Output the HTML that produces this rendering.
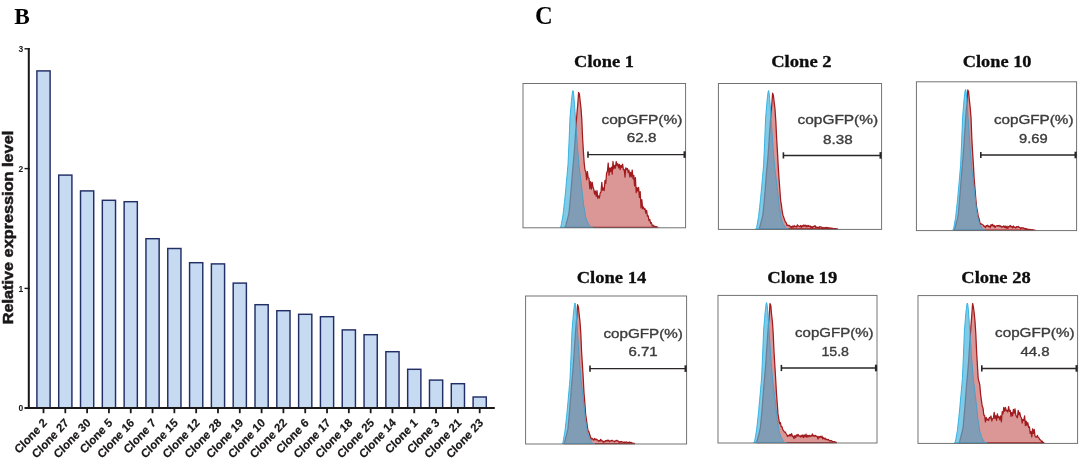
<!DOCTYPE html>
<html><head><meta charset="utf-8"><title>Figure</title>
<style>html,body{margin:0;padding:0;background:#fff;}body{width:1080px;height:460px;overflow:hidden;}svg{display:block;}text{font-family:"Liberation Sans",sans-serif;}.ser{font-family:"Liberation Serif",serif;font-weight:bold;}</style>
</head><body>
<svg width="1080" height="460" viewBox="0 0 1080 460" style="filter:blur(0.45px)">
<rect width="1080" height="460" fill="#ffffff"/>
<text class="ser" x="14.3" y="24.3" font-size="23.3">B</text>
<g fill="#c6daf2" stroke="#222e66" stroke-width="1.45">
<rect x="36.90" y="70.90" width="13.20" height="337.10"/>
<rect x="58.71" y="175.10" width="13.20" height="232.90"/>
<rect x="80.52" y="190.90" width="13.20" height="217.10"/>
<rect x="102.33" y="200.30" width="13.20" height="207.70"/>
<rect x="124.14" y="201.70" width="13.20" height="206.30"/>
<rect x="145.95" y="238.70" width="13.20" height="169.30"/>
<rect x="167.76" y="248.50" width="13.20" height="159.50"/>
<rect x="189.57" y="262.70" width="13.20" height="145.30"/>
<rect x="211.38" y="263.90" width="13.20" height="144.10"/>
<rect x="233.19" y="283.10" width="13.20" height="124.90"/>
<rect x="255.00" y="304.70" width="13.20" height="103.30"/>
<rect x="276.81" y="310.70" width="13.20" height="97.30"/>
<rect x="298.62" y="314.30" width="13.20" height="93.70"/>
<rect x="320.43" y="316.70" width="13.20" height="91.30"/>
<rect x="342.24" y="329.90" width="13.20" height="78.10"/>
<rect x="364.05" y="334.70" width="13.20" height="73.30"/>
<rect x="385.86" y="351.70" width="13.20" height="56.30"/>
<rect x="407.67" y="369.30" width="13.20" height="38.70"/>
<rect x="429.48" y="380.10" width="13.20" height="27.90"/>
<rect x="451.29" y="383.70" width="13.20" height="24.30"/>
<rect x="473.10" y="397.00" width="13.20" height="11.00"/>
</g>
<g stroke="#1a1718" fill="none">
<line x1="28.8" y1="47.9" x2="28.8" y2="409" stroke-width="2"/>
<line x1="24.5" y1="408" x2="494.8" y2="408" stroke-width="2"/>
<line x1="24.5" y1="288.40" x2="29.8" y2="288.40" stroke-width="1.4"/>
<line x1="24.5" y1="168.60" x2="29.8" y2="168.60" stroke-width="1.4"/>
<line x1="24.5" y1="48.80" x2="29.8" y2="48.80" stroke-width="1.4"/>
<line x1="43.50" y1="408" x2="43.50" y2="413.2" stroke-width="1.8"/>
<line x1="65.31" y1="408" x2="65.31" y2="413.2" stroke-width="1.8"/>
<line x1="87.12" y1="408" x2="87.12" y2="413.2" stroke-width="1.8"/>
<line x1="108.93" y1="408" x2="108.93" y2="413.2" stroke-width="1.8"/>
<line x1="130.74" y1="408" x2="130.74" y2="413.2" stroke-width="1.8"/>
<line x1="152.55" y1="408" x2="152.55" y2="413.2" stroke-width="1.8"/>
<line x1="174.36" y1="408" x2="174.36" y2="413.2" stroke-width="1.8"/>
<line x1="196.17" y1="408" x2="196.17" y2="413.2" stroke-width="1.8"/>
<line x1="217.98" y1="408" x2="217.98" y2="413.2" stroke-width="1.8"/>
<line x1="239.79" y1="408" x2="239.79" y2="413.2" stroke-width="1.8"/>
<line x1="261.60" y1="408" x2="261.60" y2="413.2" stroke-width="1.8"/>
<line x1="283.41" y1="408" x2="283.41" y2="413.2" stroke-width="1.8"/>
<line x1="305.22" y1="408" x2="305.22" y2="413.2" stroke-width="1.8"/>
<line x1="327.03" y1="408" x2="327.03" y2="413.2" stroke-width="1.8"/>
<line x1="348.84" y1="408" x2="348.84" y2="413.2" stroke-width="1.8"/>
<line x1="370.65" y1="408" x2="370.65" y2="413.2" stroke-width="1.8"/>
<line x1="392.46" y1="408" x2="392.46" y2="413.2" stroke-width="1.8"/>
<line x1="414.27" y1="408" x2="414.27" y2="413.2" stroke-width="1.8"/>
<line x1="436.08" y1="408" x2="436.08" y2="413.2" stroke-width="1.8"/>
<line x1="457.89" y1="408" x2="457.89" y2="413.2" stroke-width="1.8"/>
<line x1="479.70" y1="408" x2="479.70" y2="413.2" stroke-width="1.8"/>
</g>
<g font-weight="bold" font-size="8.5" fill="#1a1718" text-anchor="end">
<text x="23.2" y="411.40">0</text>
<text x="23.2" y="291.60">1</text>
<text x="23.2" y="171.80">2</text>
<text x="23.2" y="52.00">3</text>
</g>
<text transform="translate(12.9,324.3) rotate(-90)" font-weight="bold" font-size="15" fill="#1a1718" stroke="#1a1718" stroke-width="0.5" textLength="193.5" lengthAdjust="spacingAndGlyphs">Relative expression level</text>
<g font-weight="bold" font-size="12.05" fill="#1a1718" stroke="#1a1718" stroke-width="0.2" text-anchor="end">
<text transform="translate(47.70,423.60) scale(0.93,1) rotate(-45)">Clone 2</text>
<text transform="translate(69.51,423.60) scale(0.93,1) rotate(-45)">Clone 27</text>
<text transform="translate(91.32,423.60) scale(0.93,1) rotate(-45)">Clone 30</text>
<text transform="translate(113.13,423.60) scale(0.93,1) rotate(-45)">Clone 5</text>
<text transform="translate(134.94,423.60) scale(0.93,1) rotate(-45)">Clone 16</text>
<text transform="translate(156.75,423.60) scale(0.93,1) rotate(-45)">Clone 7</text>
<text transform="translate(178.56,423.60) scale(0.93,1) rotate(-45)">Clone 15</text>
<text transform="translate(200.37,423.60) scale(0.93,1) rotate(-45)">Clone 12</text>
<text transform="translate(222.18,423.60) scale(0.93,1) rotate(-45)">Clone 28</text>
<text transform="translate(243.99,423.60) scale(0.93,1) rotate(-45)">Clone 19</text>
<text transform="translate(265.80,423.60) scale(0.93,1) rotate(-45)">Clone 10</text>
<text transform="translate(287.61,423.60) scale(0.93,1) rotate(-45)">Clone 22</text>
<text transform="translate(309.42,423.60) scale(0.93,1) rotate(-45)">Clone 6</text>
<text transform="translate(331.23,423.60) scale(0.93,1) rotate(-45)">Clone 17</text>
<text transform="translate(353.04,423.60) scale(0.93,1) rotate(-45)">Clone 18</text>
<text transform="translate(374.85,423.60) scale(0.93,1) rotate(-45)">Clone 25</text>
<text transform="translate(396.66,423.60) scale(0.93,1) rotate(-45)">Clone 14</text>
<text transform="translate(418.47,423.60) scale(0.93,1) rotate(-45)">Clone 1</text>
<text transform="translate(440.28,423.60) scale(0.93,1) rotate(-45)">Clone 3</text>
<text transform="translate(462.09,423.60) scale(0.93,1) rotate(-45)">Clone 21</text>
<text transform="translate(483.90,423.60) scale(0.93,1) rotate(-45)">Clone 23</text>
</g>
<text class="ser" x="534.9" y="24.4" font-size="24.5">C</text>
<path d="M565.0 227.3 L565.0 227.3 L565.8 225.4 L566.6 222.4 L567.4 219.3 L568.2 216.3 L569.0 212.6 L569.8 204.1 L570.6 195.6 L571.4 185.6 L572.2 175.3 L573.0 166.1 L573.8 157.6 L574.6 147.6 L575.4 135.0 L576.2 123.7 L577.0 112.8 L577.8 104.1 L578.6 92.4 L579.4 94.1 L580.2 101.6 L581.0 108.4 L581.8 119.6 L582.6 138.3 L583.4 151.6 L584.2 163.3 L585.0 170.0 L585.8 171.6 L586.6 179.8 L587.4 171.6 L588.2 178.0 L589.0 178.1 L589.8 188.6 L590.6 181.6 L591.4 189.2 L592.2 182.3 L593.0 187.3 L593.8 189.4 L594.6 194.2 L595.4 191.0 L596.2 196.4 L597.0 190.7 L597.8 198.4 L598.6 195.9 L599.4 198.0 L600.2 193.0 L601.0 192.1 L601.8 182.3 L602.6 190.4 L603.4 187.8 L604.2 190.6 L605.0 180.4 L605.8 183.3 L606.6 172.9 L607.4 171.7 L608.2 163.0 L609.0 175.2 L609.8 168.0 L610.6 171.6 L611.4 167.1 L612.2 174.1 L613.0 161.5 L613.8 168.9 L614.6 165.5 L615.4 168.2 L616.2 161.7 L617.0 165.5 L617.8 163.7 L618.6 167.9 L619.4 164.4 L620.2 169.7 L621.0 165.3 L621.8 167.3 L622.6 164.2 L623.4 169.7 L624.2 169.5 L625.0 177.2 L625.8 167.8 L626.6 169.4 L627.4 168.4 L628.2 172.6 L629.0 170.2 L629.8 176.9 L630.6 172.4 L631.4 176.9 L632.2 170.0 L633.0 178.8 L633.8 175.4 L634.6 186.0 L635.4 177.6 L636.2 192.7 L637.0 187.6 L637.8 191.1 L638.6 187.5 L639.4 197.5 L640.2 191.7 L641.0 207.9 L641.8 199.6 L642.6 208.8 L643.4 206.9 L644.2 209.4 L645.0 208.7 L645.8 213.2 L646.6 210.4 L647.4 216.2 L648.2 215.8 L649.0 220.6 L649.8 219.4 L650.6 223.3 L651.4 222.6 L652.2 225.8 L653.0 225.1 L653.8 226.5 L654.6 226.2 L655.4 226.6 L656.2 226.7 L657.0 227.0 L657.8 227.1 L657.8 227.3 Z" fill="#b93535" fill-opacity="0.435" stroke="#a01a1d" stroke-width="1.25" stroke-linejoin="round"/>
<path d="M560.0 227.3 L560.0 227.3 L560.5 227.3 L561.0 226.2 L561.5 223.4 L562.0 220.6 L562.5 217.8 L563.0 215.0 L563.5 210.6 L564.0 206.1 L564.5 201.7 L565.0 197.2 L565.5 191.9 L566.0 186.5 L566.5 181.1 L567.0 175.5 L567.5 170.0 L568.0 164.4 L568.5 153.5 L569.0 142.5 L569.5 130.2 L570.0 117.9 L570.5 112.0 L571.0 106.1 L571.5 100.2 L572.0 96.1 L572.5 92.0 L573.0 90.6 L573.5 92.9 L574.0 98.2 L574.5 104.3 L575.0 111.6 L575.5 118.9 L576.0 126.1 L576.5 133.4 L577.0 140.7 L577.5 148.0 L578.0 153.9 L578.5 159.9 L579.0 165.8 L579.5 169.8 L580.0 173.8 L580.5 177.7 L581.0 181.7 L581.5 185.8 L582.0 190.4 L582.5 194.9 L583.0 199.5 L583.5 204.1 L584.0 207.1 L584.5 210.2 L585.0 213.3 L585.5 216.4 L586.0 218.0 L586.5 219.6 L587.0 221.1 L587.5 222.0 L588.0 222.9 L588.5 223.8 L589.0 224.7 L589.5 225.5 L590.0 226.4 L590.5 227.3 L591.0 227.3 L591.5 227.3 L592.0 227.3 L592.5 227.3 L593.0 227.3 L593.0 227.3 Z" fill="#4ab4dc" fill-opacity="0.70" stroke="#35b2e4" stroke-width="1.0" stroke-linejoin="round"/>
<path d="M565.0 227.3 L565.0 227.3 L565.8 225.4 L566.6 222.4 L567.4 219.3 L568.2 216.3 L569.0 212.6 L569.8 204.1 L570.6 195.6 L571.4 185.6 L572.2 175.3 L573.0 166.1 L573.8 157.6 L574.6 147.6 L575.4 135.0 L576.2 123.7 L577.0 112.8 L577.8 104.1 L578.6 92.4 L579.4 94.1 L580.2 101.6 L581.0 108.4 L581.8 119.6 L582.6 138.3 L583.4 151.6 L584.2 163.3 L585.0 170.0 L585.8 171.6 L586.6 179.8 L587.4 171.6 L588.2 178.0 L589.0 178.1 L589.8 188.6 L590.6 181.6 L591.4 189.2 L592.2 182.3 L593.0 187.3 L593.8 189.4 L594.6 194.2 L595.4 191.0 L596.2 196.4 L597.0 190.7 L597.8 198.4 L598.6 195.9 L599.4 198.0 L600.2 193.0 L601.0 192.1 L601.8 182.3 L602.6 190.4 L603.4 187.8 L604.2 190.6 L605.0 180.4 L605.8 183.3 L606.6 172.9 L607.4 171.7 L608.2 163.0 L609.0 175.2 L609.8 168.0 L610.6 171.6 L611.4 167.1 L612.2 174.1 L613.0 161.5 L613.8 168.9 L614.6 165.5 L615.4 168.2 L616.2 161.7 L617.0 165.5 L617.8 163.7 L618.6 167.9 L619.4 164.4 L620.2 169.7 L621.0 165.3 L621.8 167.3 L622.6 164.2 L623.4 169.7 L624.2 169.5 L625.0 177.2 L625.8 167.8 L626.6 169.4 L627.4 168.4 L628.2 172.6 L629.0 170.2 L629.8 176.9 L630.6 172.4 L631.4 176.9 L632.2 170.0 L633.0 178.8 L633.8 175.4 L634.6 186.0 L635.4 177.6 L636.2 192.7 L637.0 187.6 L637.8 191.1 L638.6 187.5 L639.4 197.5 L640.2 191.7 L641.0 207.9 L641.8 199.6 L642.6 208.8 L643.4 206.9 L644.2 209.4 L645.0 208.7 L645.8 213.2 L646.6 210.4 L647.4 216.2 L648.2 215.8 L649.0 220.6 L649.8 219.4 L650.6 223.3 L651.4 222.6 L652.2 225.8 L653.0 225.1 L653.8 226.5 L654.6 226.2 L655.4 226.6 L656.2 226.7 L657.0 227.0 L657.8 227.1 L657.8 227.3 Z" fill="#b93535" fill-opacity="0.15" stroke="none"/>
<rect x="523.0" y="83.5" width="162.6" height="144.3" fill="none" stroke="#6c6c6c" stroke-width="0.95"/>
<g stroke="#2a2626" fill="none"><line x1="587.6" y1="154.6" x2="685.1" y2="154.6" stroke-width="1.45"/><line x1="588.0" y1="151.5" x2="588.0" y2="157.7" stroke-width="1.6"/><line x1="684.6" y1="151.3" x2="684.6" y2="157.9" stroke-width="2.2"/></g>
<text x="601.5" y="123.6" font-size="12.5" fill="#3c3c3c" stroke="#3c3c3c" stroke-width="0.35" textLength="80.8" lengthAdjust="spacingAndGlyphs">copGFP(%)</text>
<text x="626.8" y="142.2" font-size="12.6" fill="#3c3c3c" stroke="#3c3c3c" stroke-width="0.35" textLength="29.7" lengthAdjust="spacingAndGlyphs">62.8</text>
<text class="ser" x="574.1" y="67.2" font-size="16.8" fill="#0d0d0d" stroke="#0d0d0d" stroke-width="0.3" textLength="59.8" lengthAdjust="spacingAndGlyphs">Clone 1</text>
<path d="M759.0 228.9 L759.0 228.9 L759.8 227.0 L760.6 223.9 L761.4 220.9 L762.2 217.8 L763.0 214.0 L763.8 205.5 L764.6 196.9 L765.4 186.7 L766.2 176.3 L767.0 167.0 L767.8 158.4 L768.6 148.3 L769.4 135.6 L770.2 124.1 L771.0 113.1 L771.8 104.5 L772.6 93.2 L773.4 95.5 L774.2 102.6 L775.0 109.2 L775.8 120.9 L776.6 137.7 L777.4 151.1 L778.2 165.9 L779.0 178.4 L779.8 189.0 L780.6 200.3 L781.4 205.2 L782.2 211.5 L783.0 215.4 L783.8 217.5 L784.6 220.1 L785.4 222.1 L786.2 222.7 L787.0 225.6 L787.8 225.1 L788.6 225.7 L789.4 225.4 L790.2 227.1 L791.0 226.3 L791.8 227.6 L792.6 226.1 L793.4 227.0 L794.2 225.5 L795.0 226.8 L795.8 226.3 L796.6 227.2 L797.4 224.8 L798.2 226.1 L799.0 226.1 L799.8 226.8 L800.6 225.5 L801.4 227.4 L802.2 225.5 L803.0 226.6 L803.8 225.0 L804.6 226.0 L805.4 225.2 L806.2 226.9 L807.0 225.4 L807.8 226.8 L808.6 225.5 L809.4 226.6 L810.2 225.9 L811.0 228.0 L811.8 226.6 L812.6 227.7 L813.4 226.4 L814.2 226.6 L815.0 225.6 L815.8 227.6 L816.6 227.1 L817.4 227.5 L818.2 227.2 L819.0 227.8 L819.8 226.7 L820.6 226.9 L821.4 227.1 L822.2 228.0 L823.0 227.5 L823.8 228.3 L824.6 227.6 L825.4 228.0 L826.2 227.4 L827.0 227.9 L827.8 227.6 L828.6 228.0 L829.4 227.9 L830.2 228.4 L831.0 228.0 L831.8 228.3 L832.6 228.3 L833.4 228.5 L834.2 228.5 L835.0 228.7 L835.8 228.6 L836.6 228.8 L837.4 228.8 L837.4 228.9 Z" fill="#b93535" fill-opacity="0.435" stroke="#a01a1d" stroke-width="1.25" stroke-linejoin="round"/>
<path d="M755.6 228.9 L755.6 228.9 L756.1 228.9 L756.6 227.8 L757.1 224.9 L757.6 222.1 L758.1 219.3 L758.6 216.5 L759.1 212.0 L759.6 207.5 L760.1 203.0 L760.6 198.5 L761.1 193.0 L761.6 187.6 L762.1 182.1 L762.6 176.5 L763.1 170.9 L763.6 165.3 L764.1 154.2 L764.6 143.2 L765.1 130.7 L765.6 118.3 L766.1 112.3 L766.6 106.3 L767.1 100.3 L767.6 96.1 L768.1 92.0 L768.6 90.6 L769.1 92.9 L769.6 98.3 L770.1 104.4 L770.6 111.8 L771.1 119.2 L771.6 126.6 L772.1 133.9 L772.6 141.3 L773.1 148.7 L773.6 154.7 L774.1 160.7 L774.6 166.7 L775.1 170.7 L775.6 174.7 L776.1 178.8 L776.6 182.8 L777.1 186.9 L777.6 191.6 L778.1 196.2 L778.6 200.8 L779.1 205.4 L779.6 208.5 L780.1 211.6 L780.6 214.7 L781.1 217.8 L781.6 219.4 L782.1 221.1 L782.6 222.7 L783.1 223.6 L783.6 224.5 L784.1 225.3 L784.6 226.2 L785.1 227.1 L785.6 228.0 L786.1 228.9 L786.6 228.9 L787.1 228.9 L787.6 228.9 L788.1 228.9 L788.6 228.9 L788.6 228.9 Z" fill="#4ab4dc" fill-opacity="0.70" stroke="#35b2e4" stroke-width="1.0" stroke-linejoin="round"/>
<path d="M759.0 228.9 L759.0 228.9 L759.8 227.0 L760.6 223.9 L761.4 220.9 L762.2 217.8 L763.0 214.0 L763.8 205.5 L764.6 196.9 L765.4 186.7 L766.2 176.3 L767.0 167.0 L767.8 158.4 L768.6 148.3 L769.4 135.6 L770.2 124.1 L771.0 113.1 L771.8 104.5 L772.6 93.2 L773.4 95.5 L774.2 102.6 L775.0 109.2 L775.8 120.9 L776.6 137.7 L777.4 151.1 L778.2 165.9 L779.0 178.4 L779.8 189.0 L780.6 200.3 L781.4 205.2 L782.2 211.5 L783.0 215.4 L783.8 217.5 L784.6 220.1 L785.4 222.1 L786.2 222.7 L787.0 225.6 L787.8 225.1 L788.6 225.7 L789.4 225.4 L790.2 227.1 L791.0 226.3 L791.8 227.6 L792.6 226.1 L793.4 227.0 L794.2 225.5 L795.0 226.8 L795.8 226.3 L796.6 227.2 L797.4 224.8 L798.2 226.1 L799.0 226.1 L799.8 226.8 L800.6 225.5 L801.4 227.4 L802.2 225.5 L803.0 226.6 L803.8 225.0 L804.6 226.0 L805.4 225.2 L806.2 226.9 L807.0 225.4 L807.8 226.8 L808.6 225.5 L809.4 226.6 L810.2 225.9 L811.0 228.0 L811.8 226.6 L812.6 227.7 L813.4 226.4 L814.2 226.6 L815.0 225.6 L815.8 227.6 L816.6 227.1 L817.4 227.5 L818.2 227.2 L819.0 227.8 L819.8 226.7 L820.6 226.9 L821.4 227.1 L822.2 228.0 L823.0 227.5 L823.8 228.3 L824.6 227.6 L825.4 228.0 L826.2 227.4 L827.0 227.9 L827.8 227.6 L828.6 228.0 L829.4 227.9 L830.2 228.4 L831.0 228.0 L831.8 228.3 L832.6 228.3 L833.4 228.5 L834.2 228.5 L835.0 228.7 L835.8 228.6 L836.6 228.8 L837.4 228.8 L837.4 228.9 Z" fill="#b93535" fill-opacity="0.15" stroke="none"/>
<rect x="718.4" y="83.5" width="163.2" height="145.9" fill="none" stroke="#6c6c6c" stroke-width="0.95"/>
<g stroke="#2a2626" fill="none"><line x1="783.0" y1="155.4" x2="881.1" y2="155.4" stroke-width="1.45"/><line x1="783.4" y1="152.3" x2="783.4" y2="158.5" stroke-width="1.6"/><line x1="880.6" y1="152.1" x2="880.6" y2="158.7" stroke-width="2.2"/></g>
<text x="797.5" y="124.0" font-size="12.5" fill="#3c3c3c" stroke="#3c3c3c" stroke-width="0.35" textLength="80.6" lengthAdjust="spacingAndGlyphs">copGFP(%)</text>
<text x="823.0" y="143.6" font-size="12.6" fill="#3c3c3c" stroke="#3c3c3c" stroke-width="0.35" textLength="29.6" lengthAdjust="spacingAndGlyphs">8.38</text>
<text class="ser" x="771.2" y="67.2" font-size="16.8" fill="#0d0d0d" stroke="#0d0d0d" stroke-width="0.3" textLength="60.4" lengthAdjust="spacingAndGlyphs">Clone 2</text>
<path d="M954.2 230.1 L954.2 230.1 L955.0 228.1 L955.8 225.0 L956.6 221.8 L957.4 218.7 L958.2 214.8 L959.0 205.9 L959.8 197.1 L960.6 186.6 L961.4 175.9 L962.2 166.3 L963.0 157.5 L963.8 147.0 L964.6 133.9 L965.4 122.1 L966.2 110.7 L967.0 101.8 L967.8 89.9 L968.6 91.8 L969.4 100.2 L970.2 107.7 L971.0 117.3 L971.8 138.0 L972.6 152.4 L973.4 164.8 L974.2 179.6 L975.0 188.9 L975.8 198.9 L976.6 207.2 L977.4 210.9 L978.2 216.3 L979.0 218.4 L979.8 222.2 L980.6 224.3 L981.4 223.9 L982.2 224.5 L983.0 224.8 L983.8 226.3 L984.6 226.2 L985.4 227.6 L986.2 225.6 L987.0 226.2 L987.8 225.2 L988.6 226.8 L989.4 226.1 L990.2 227.7 L991.0 224.6 L991.8 225.8 L992.6 224.4 L993.4 226.3 L994.2 225.4 L995.0 227.6 L995.8 226.2 L996.6 225.9 L997.4 225.6 L998.2 226.2 L999.0 225.3 L999.8 226.4 L1000.6 225.8 L1001.4 227.1 L1002.2 226.6 L1003.0 226.9 L1003.8 225.8 L1004.6 227.4 L1005.4 226.1 L1006.2 228.4 L1007.0 226.2 L1007.8 228.4 L1008.6 226.5 L1009.4 226.6 L1010.2 225.4 L1011.0 227.0 L1011.8 226.4 L1012.6 227.9 L1013.4 226.0 L1014.2 227.3 L1015.0 227.2 L1015.8 228.1 L1016.6 226.6 L1017.4 227.2 L1018.2 226.3 L1019.0 227.4 L1019.8 227.3 L1020.6 228.6 L1021.4 227.7 L1022.2 228.2 L1023.0 227.6 L1023.8 228.4 L1024.6 228.3 L1025.4 229.1 L1026.2 228.6 L1027.0 229.3 L1027.8 229.2 L1028.6 229.5 L1029.4 229.3 L1030.2 229.7 L1031.0 229.5 L1031.8 229.8 L1032.6 229.7 L1033.4 230.0 L1034.2 230.0 L1035.0 230.1 L1035.0 230.1 Z" fill="#b93535" fill-opacity="0.435" stroke="#a01a1d" stroke-width="1.25" stroke-linejoin="round"/>
<path d="M952.6 230.1 L952.6 230.1 L953.1 230.1 L953.6 228.9 L954.1 226.1 L954.6 223.2 L955.1 220.3 L955.6 217.4 L956.1 212.9 L956.6 208.3 L957.1 203.7 L957.6 199.1 L958.1 193.6 L958.6 188.1 L959.1 182.5 L959.6 176.8 L960.1 171.1 L960.6 165.4 L961.1 154.1 L961.6 142.9 L962.1 130.2 L962.6 117.5 L963.1 111.4 L963.6 105.3 L964.1 99.2 L964.6 95.0 L965.1 90.8 L965.6 89.4 L966.1 91.7 L966.6 97.2 L967.1 103.5 L967.6 111.0 L968.1 118.5 L968.6 126.0 L969.1 133.5 L969.6 141.0 L970.1 148.5 L970.6 154.6 L971.1 160.7 L971.6 166.8 L972.1 170.9 L972.6 175.0 L973.1 179.1 L973.6 183.2 L974.1 187.4 L974.6 192.1 L975.1 196.8 L975.6 201.5 L976.1 206.2 L976.6 209.3 L977.1 212.5 L977.6 215.7 L978.1 218.8 L978.6 220.5 L979.1 222.1 L979.6 223.8 L980.1 224.7 L980.6 225.6 L981.1 226.5 L981.6 227.4 L982.1 228.3 L982.6 229.2 L983.1 230.1 L983.6 230.1 L984.1 230.1 L984.6 230.1 L985.1 230.1 L985.6 230.1 L985.6 230.1 Z" fill="#4ab4dc" fill-opacity="0.70" stroke="#35b2e4" stroke-width="1.0" stroke-linejoin="round"/>
<path d="M954.2 230.1 L954.2 230.1 L955.0 228.1 L955.8 225.0 L956.6 221.8 L957.4 218.7 L958.2 214.8 L959.0 205.9 L959.8 197.1 L960.6 186.6 L961.4 175.9 L962.2 166.3 L963.0 157.5 L963.8 147.0 L964.6 133.9 L965.4 122.1 L966.2 110.7 L967.0 101.8 L967.8 89.9 L968.6 91.8 L969.4 100.2 L970.2 107.7 L971.0 117.3 L971.8 138.0 L972.6 152.4 L973.4 164.8 L974.2 179.6 L975.0 188.9 L975.8 198.9 L976.6 207.2 L977.4 210.9 L978.2 216.3 L979.0 218.4 L979.8 222.2 L980.6 224.3 L981.4 223.9 L982.2 224.5 L983.0 224.8 L983.8 226.3 L984.6 226.2 L985.4 227.6 L986.2 225.6 L987.0 226.2 L987.8 225.2 L988.6 226.8 L989.4 226.1 L990.2 227.7 L991.0 224.6 L991.8 225.8 L992.6 224.4 L993.4 226.3 L994.2 225.4 L995.0 227.6 L995.8 226.2 L996.6 225.9 L997.4 225.6 L998.2 226.2 L999.0 225.3 L999.8 226.4 L1000.6 225.8 L1001.4 227.1 L1002.2 226.6 L1003.0 226.9 L1003.8 225.8 L1004.6 227.4 L1005.4 226.1 L1006.2 228.4 L1007.0 226.2 L1007.8 228.4 L1008.6 226.5 L1009.4 226.6 L1010.2 225.4 L1011.0 227.0 L1011.8 226.4 L1012.6 227.9 L1013.4 226.0 L1014.2 227.3 L1015.0 227.2 L1015.8 228.1 L1016.6 226.6 L1017.4 227.2 L1018.2 226.3 L1019.0 227.4 L1019.8 227.3 L1020.6 228.6 L1021.4 227.7 L1022.2 228.2 L1023.0 227.6 L1023.8 228.4 L1024.6 228.3 L1025.4 229.1 L1026.2 228.6 L1027.0 229.3 L1027.8 229.2 L1028.6 229.5 L1029.4 229.3 L1030.2 229.7 L1031.0 229.5 L1031.8 229.8 L1032.6 229.7 L1033.4 230.0 L1034.2 230.0 L1035.0 230.1 L1035.0 230.1 Z" fill="#b93535" fill-opacity="0.15" stroke="none"/>
<rect x="916.4" y="81.8" width="160.2" height="148.8" fill="none" stroke="#6c6c6c" stroke-width="0.95"/>
<g stroke="#2a2626" fill="none"><line x1="980.4" y1="155.0" x2="1076.1" y2="155.0" stroke-width="1.45"/><line x1="980.8" y1="151.9" x2="980.8" y2="158.1" stroke-width="1.6"/><line x1="1075.6" y1="151.7" x2="1075.6" y2="158.3" stroke-width="2.2"/></g>
<text x="993.9" y="123.6" font-size="12.5" fill="#3c3c3c" stroke="#3c3c3c" stroke-width="0.35" textLength="79.6" lengthAdjust="spacingAndGlyphs">copGFP(%)</text>
<text x="1019.0" y="143.0" font-size="12.6" fill="#3c3c3c" stroke="#3c3c3c" stroke-width="0.35" textLength="28.6" lengthAdjust="spacingAndGlyphs">9.69</text>
<text class="ser" x="962.7" y="67.2" font-size="16.8" fill="#0d0d0d" stroke="#0d0d0d" stroke-width="0.3" textLength="68.8" lengthAdjust="spacingAndGlyphs">Clone 10</text>
<path d="M564.0 443.5 L564.0 443.5 L564.8 441.5 L565.6 438.4 L566.4 435.3 L567.2 432.2 L568.0 428.4 L568.8 419.6 L569.6 410.9 L570.4 400.5 L571.2 389.9 L572.0 380.4 L572.8 371.7 L573.6 361.4 L574.4 348.4 L575.2 336.7 L576.0 325.5 L576.8 316.8 L577.6 304.6 L578.4 307.1 L579.2 314.6 L580.0 322.0 L580.8 333.2 L581.6 352.2 L582.4 364.6 L583.2 377.9 L584.0 393.1 L584.8 402.3 L585.6 414.1 L586.4 419.4 L587.2 425.4 L588.0 430.7 L588.8 431.5 L589.6 434.3 L590.4 436.7 L591.2 439.0 L592.0 438.3 L592.8 439.1 L593.6 440.1 L594.4 438.5 L595.2 439.8 L596.0 438.9 L596.8 440.0 L597.6 439.9 L598.4 441.3 L599.2 440.4 L600.0 441.2 L600.8 439.3 L601.6 440.9 L602.4 440.8 L603.2 442.3 L604.0 441.2 L604.8 441.8 L605.6 440.6 L606.4 441.2 L607.2 440.1 L608.0 441.2 L608.8 440.2 L609.6 441.7 L610.4 440.8 L611.2 441.0 L612.0 440.2 L612.8 440.9 L613.6 441.0 L614.4 441.8 L615.2 440.8 L616.0 441.1 L616.8 440.3 L617.6 441.0 L618.4 441.1 L619.2 442.5 L620.0 441.6 L620.8 442.1 L621.6 441.6 L622.4 442.0 L623.2 442.0 L624.0 442.7 L624.8 442.0 L625.6 442.6 L626.4 441.9 L627.2 442.5 L628.0 442.3 L628.8 442.5 L629.6 442.1 L630.4 442.6 L631.2 442.4 L632.0 443.0 L632.8 443.1 L633.6 443.3 L634.4 443.3 L634.4 443.5 Z" fill="#b93535" fill-opacity="0.435" stroke="#a01a1d" stroke-width="1.25" stroke-linejoin="round"/>
<path d="M562.0 443.5 L562.0 443.5 L562.5 443.5 L563.0 442.4 L563.5 439.5 L564.0 436.6 L564.5 433.7 L565.0 430.9 L565.5 426.3 L566.0 421.7 L566.5 417.2 L567.0 412.6 L567.5 407.1 L568.0 401.6 L568.5 396.0 L569.0 390.3 L569.5 384.6 L570.0 378.9 L570.5 367.6 L571.0 356.4 L571.5 343.7 L572.0 331.1 L572.5 325.0 L573.0 318.9 L573.5 312.8 L574.0 308.6 L574.5 304.4 L575.0 303.0 L575.5 305.3 L576.0 310.8 L576.5 317.1 L577.0 324.5 L577.5 332.0 L578.0 339.5 L578.5 347.0 L579.0 354.5 L579.5 362.0 L580.0 368.1 L580.5 374.2 L581.0 380.3 L581.5 384.4 L582.0 388.5 L582.5 392.6 L583.0 396.7 L583.5 400.9 L584.0 405.6 L584.5 410.2 L585.0 414.9 L585.5 419.6 L586.0 422.8 L586.5 425.9 L587.0 429.1 L587.5 432.3 L588.0 433.9 L588.5 435.5 L589.0 437.2 L589.5 438.1 L590.0 439.0 L590.5 439.9 L591.0 440.8 L591.5 441.7 L592.0 442.6 L592.5 443.5 L593.0 443.5 L593.5 443.5 L594.0 443.5 L594.5 443.5 L595.0 443.5 L595.0 443.5 Z" fill="#4ab4dc" fill-opacity="0.70" stroke="#35b2e4" stroke-width="1.0" stroke-linejoin="round"/>
<path d="M564.0 443.5 L564.0 443.5 L564.8 441.5 L565.6 438.4 L566.4 435.3 L567.2 432.2 L568.0 428.4 L568.8 419.6 L569.6 410.9 L570.4 400.5 L571.2 389.9 L572.0 380.4 L572.8 371.7 L573.6 361.4 L574.4 348.4 L575.2 336.7 L576.0 325.5 L576.8 316.8 L577.6 304.6 L578.4 307.1 L579.2 314.6 L580.0 322.0 L580.8 333.2 L581.6 352.2 L582.4 364.6 L583.2 377.9 L584.0 393.1 L584.8 402.3 L585.6 414.1 L586.4 419.4 L587.2 425.4 L588.0 430.7 L588.8 431.5 L589.6 434.3 L590.4 436.7 L591.2 439.0 L592.0 438.3 L592.8 439.1 L593.6 440.1 L594.4 438.5 L595.2 439.8 L596.0 438.9 L596.8 440.0 L597.6 439.9 L598.4 441.3 L599.2 440.4 L600.0 441.2 L600.8 439.3 L601.6 440.9 L602.4 440.8 L603.2 442.3 L604.0 441.2 L604.8 441.8 L605.6 440.6 L606.4 441.2 L607.2 440.1 L608.0 441.2 L608.8 440.2 L609.6 441.7 L610.4 440.8 L611.2 441.0 L612.0 440.2 L612.8 440.9 L613.6 441.0 L614.4 441.8 L615.2 440.8 L616.0 441.1 L616.8 440.3 L617.6 441.0 L618.4 441.1 L619.2 442.5 L620.0 441.6 L620.8 442.1 L621.6 441.6 L622.4 442.0 L623.2 442.0 L624.0 442.7 L624.8 442.0 L625.6 442.6 L626.4 441.9 L627.2 442.5 L628.0 442.3 L628.8 442.5 L629.6 442.1 L630.4 442.6 L631.2 442.4 L632.0 443.0 L632.8 443.1 L633.6 443.3 L634.4 443.3 L634.4 443.5 Z" fill="#b93535" fill-opacity="0.15" stroke="none"/>
<rect x="525.6" y="296.0" width="161.0" height="148.0" fill="none" stroke="#6c6c6c" stroke-width="0.95"/>
<g stroke="#2a2626" fill="none"><line x1="589.6" y1="368.6" x2="686.1" y2="368.6" stroke-width="1.45"/><line x1="590.0" y1="365.5" x2="590.0" y2="371.7" stroke-width="1.6"/><line x1="685.6" y1="365.3" x2="685.6" y2="371.9" stroke-width="2.2"/></g>
<text x="603.5" y="337.6" font-size="12.5" fill="#3c3c3c" stroke="#3c3c3c" stroke-width="0.35" textLength="79.4" lengthAdjust="spacingAndGlyphs">copGFP(%)</text>
<text x="628.4" y="356.4" font-size="12.6" fill="#3c3c3c" stroke="#3c3c3c" stroke-width="0.35" textLength="29.2" lengthAdjust="spacingAndGlyphs">6.71</text>
<text class="ser" x="576.7" y="283.0" font-size="16.8" fill="#0d0d0d" stroke="#0d0d0d" stroke-width="0.3" textLength="69.6" lengthAdjust="spacingAndGlyphs">Clone 14</text>
<path d="M756.4 442.5 L756.4 442.5 L757.2 440.6 L758.0 437.4 L758.8 434.3 L759.6 431.2 L760.4 427.4 L761.2 418.7 L762.0 410.0 L762.8 399.7 L763.6 389.1 L764.4 379.7 L765.2 371.0 L766.0 360.7 L766.8 347.8 L767.6 336.2 L768.4 325.0 L769.2 316.0 L770.0 303.6 L770.8 305.6 L771.6 314.7 L772.4 321.8 L773.2 333.5 L774.0 351.7 L774.8 364.7 L775.6 377.8 L776.4 392.4 L777.2 403.0 L778.0 413.9 L778.8 419.1 L779.6 423.6 L780.4 422.6 L781.2 426.7 L782.0 426.6 L782.8 429.8 L783.6 430.4 L784.4 432.2 L785.2 432.0 L786.0 433.5 L786.8 434.7 L787.6 436.4 L788.4 435.4 L789.2 435.9 L790.0 434.3 L790.8 435.9 L791.6 433.7 L792.4 436.5 L793.2 436.1 L794.0 438.6 L794.8 435.7 L795.6 437.6 L796.4 434.8 L797.2 436.2 L798.0 434.3 L798.8 436.1 L799.6 435.9 L800.4 437.0 L801.2 435.2 L802.0 436.9 L802.8 434.9 L803.6 437.6 L804.4 435.0 L805.2 436.7 L806.0 434.2 L806.8 437.4 L807.6 435.4 L808.4 436.8 L809.2 435.2 L810.0 436.6 L810.8 435.6 L811.6 436.2 L812.4 433.9 L813.2 436.2 L814.0 435.5 L814.8 436.3 L815.6 435.3 L816.4 436.5 L817.2 436.3 L818.0 439.1 L818.8 436.4 L819.6 437.7 L820.4 436.4 L821.2 437.5 L822.0 436.1 L822.8 439.0 L823.6 437.7 L824.4 439.0 L825.2 438.1 L826.0 439.8 L826.8 439.2 L827.6 439.9 L828.4 439.3 L829.2 440.8 L830.0 440.6 L830.8 440.9 L831.6 440.6 L832.4 441.6 L833.2 441.7 L834.0 441.8 L834.8 441.7 L835.6 442.2 L836.4 442.3 L836.4 442.5 Z" fill="#b93535" fill-opacity="0.435" stroke="#a01a1d" stroke-width="1.25" stroke-linejoin="round"/>
<path d="M753.6 442.5 L753.6 442.5 L754.1 442.5 L754.6 441.4 L755.1 438.5 L755.6 435.6 L756.1 432.8 L756.6 429.9 L757.1 425.4 L757.6 420.8 L758.1 416.3 L758.6 411.7 L759.1 406.2 L759.6 400.7 L760.1 395.2 L760.6 389.5 L761.1 383.8 L761.6 378.1 L762.1 367.0 L762.6 355.8 L763.1 343.2 L763.6 330.6 L764.1 324.5 L764.6 318.5 L765.1 312.4 L765.6 308.2 L766.1 304.0 L766.6 302.6 L767.1 304.9 L767.6 310.4 L768.1 316.6 L768.6 324.1 L769.1 331.5 L769.6 339.0 L770.1 346.4 L770.6 353.9 L771.1 361.4 L771.6 367.4 L772.1 373.5 L772.6 379.5 L773.1 383.6 L773.6 387.7 L774.1 391.8 L774.6 395.9 L775.1 400.1 L775.6 404.7 L776.1 409.4 L776.6 414.1 L777.1 418.7 L777.6 421.9 L778.1 425.0 L778.6 428.2 L779.1 431.3 L779.6 432.9 L780.1 434.6 L780.6 436.2 L781.1 437.1 L781.6 438.0 L782.1 438.9 L782.6 439.8 L783.1 440.7 L783.6 441.6 L784.1 442.5 L784.6 442.5 L785.1 442.5 L785.6 442.5 L786.1 442.5 L786.6 442.5 L786.6 442.5 Z" fill="#4ab4dc" fill-opacity="0.70" stroke="#35b2e4" stroke-width="1.0" stroke-linejoin="round"/>
<path d="M756.4 442.5 L756.4 442.5 L757.2 440.6 L758.0 437.4 L758.8 434.3 L759.6 431.2 L760.4 427.4 L761.2 418.7 L762.0 410.0 L762.8 399.7 L763.6 389.1 L764.4 379.7 L765.2 371.0 L766.0 360.7 L766.8 347.8 L767.6 336.2 L768.4 325.0 L769.2 316.0 L770.0 303.6 L770.8 305.6 L771.6 314.7 L772.4 321.8 L773.2 333.5 L774.0 351.7 L774.8 364.7 L775.6 377.8 L776.4 392.4 L777.2 403.0 L778.0 413.9 L778.8 419.1 L779.6 423.6 L780.4 422.6 L781.2 426.7 L782.0 426.6 L782.8 429.8 L783.6 430.4 L784.4 432.2 L785.2 432.0 L786.0 433.5 L786.8 434.7 L787.6 436.4 L788.4 435.4 L789.2 435.9 L790.0 434.3 L790.8 435.9 L791.6 433.7 L792.4 436.5 L793.2 436.1 L794.0 438.6 L794.8 435.7 L795.6 437.6 L796.4 434.8 L797.2 436.2 L798.0 434.3 L798.8 436.1 L799.6 435.9 L800.4 437.0 L801.2 435.2 L802.0 436.9 L802.8 434.9 L803.6 437.6 L804.4 435.0 L805.2 436.7 L806.0 434.2 L806.8 437.4 L807.6 435.4 L808.4 436.8 L809.2 435.2 L810.0 436.6 L810.8 435.6 L811.6 436.2 L812.4 433.9 L813.2 436.2 L814.0 435.5 L814.8 436.3 L815.6 435.3 L816.4 436.5 L817.2 436.3 L818.0 439.1 L818.8 436.4 L819.6 437.7 L820.4 436.4 L821.2 437.5 L822.0 436.1 L822.8 439.0 L823.6 437.7 L824.4 439.0 L825.2 438.1 L826.0 439.8 L826.8 439.2 L827.6 439.9 L828.4 439.3 L829.2 440.8 L830.0 440.6 L830.8 440.9 L831.6 440.6 L832.4 441.6 L833.2 441.7 L834.0 441.8 L834.8 441.7 L835.6 442.2 L836.4 442.3 L836.4 442.5 Z" fill="#b93535" fill-opacity="0.15" stroke="none"/>
<rect x="718.0" y="295.4" width="159.0" height="147.6" fill="none" stroke="#6c6c6c" stroke-width="0.95"/>
<g stroke="#2a2626" fill="none"><line x1="781.0" y1="368.0" x2="876.5" y2="368.0" stroke-width="1.45"/><line x1="781.4" y1="364.9" x2="781.4" y2="371.1" stroke-width="1.6"/><line x1="876.0" y1="364.7" x2="876.0" y2="371.3" stroke-width="2.2"/></g>
<text x="795.1" y="337.0" font-size="12.5" fill="#3c3c3c" stroke="#3c3c3c" stroke-width="0.35" textLength="78.4" lengthAdjust="spacingAndGlyphs">copGFP(%)</text>
<text x="821.4" y="356.0" font-size="12.6" fill="#3c3c3c" stroke="#3c3c3c" stroke-width="0.35" textLength="27.6" lengthAdjust="spacingAndGlyphs">15.8</text>
<text class="ser" x="767.3" y="283.0" font-size="16.8" fill="#0d0d0d" stroke="#0d0d0d" stroke-width="0.3" textLength="70.0" lengthAdjust="spacingAndGlyphs">Clone 19</text>
<path d="M959.0 442.9 L959.0 442.9 L959.8 441.0 L960.6 437.8 L961.4 434.7 L962.2 431.6 L963.0 427.8 L963.8 419.1 L964.6 410.4 L965.4 400.1 L966.2 389.5 L967.0 380.1 L967.8 371.4 L968.6 361.1 L969.4 348.2 L970.2 336.6 L971.0 325.4 L971.8 315.1 L972.6 303.5 L973.4 307.0 L974.2 313.0 L975.0 321.4 L975.8 333.7 L976.6 351.8 L977.4 365.2 L978.2 378.7 L979.0 381.6 L979.8 384.8 L980.6 394.3 L981.4 400.4 L982.2 406.0 L983.0 407.9 L983.8 415.1 L984.6 415.3 L985.4 422.0 L986.2 417.5 L987.0 420.1 L987.8 419.1 L988.6 420.5 L989.4 417.3 L990.2 418.2 L991.0 416.0 L991.8 421.0 L992.6 418.6 L993.4 418.2 L994.2 412.4 L995.0 418.7 L995.8 415.6 L996.6 420.3 L997.4 413.9 L998.2 417.7 L999.0 416.7 L999.8 419.8 L1000.6 415.8 L1001.4 421.8 L1002.2 411.7 L1003.0 414.0 L1003.8 407.4 L1004.6 411.2 L1005.4 407.5 L1006.2 410.9 L1007.0 410.4 L1007.8 412.0 L1008.6 406.7 L1009.4 411.1 L1010.2 410.3 L1011.0 416.4 L1011.8 412.5 L1012.6 415.9 L1013.4 409.4 L1014.2 413.1 L1015.0 408.9 L1015.8 415.0 L1016.6 416.7 L1017.4 417.8 L1018.2 410.3 L1019.0 414.7 L1019.8 412.5 L1020.6 416.9 L1021.4 417.6 L1022.2 423.2 L1023.0 419.5 L1023.8 420.3 L1024.6 415.9 L1025.4 425.6 L1026.2 421.2 L1027.0 425.3 L1027.8 422.7 L1028.6 427.3 L1029.4 426.8 L1030.2 433.4 L1031.0 431.5 L1031.8 436.8 L1032.6 428.8 L1033.4 433.4 L1034.2 429.4 L1035.0 436.0 L1035.8 437.1 L1036.6 437.2 L1037.4 435.4 L1038.2 437.4 L1039.0 438.0 L1039.8 439.7 L1040.6 439.9 L1041.4 441.6 L1042.2 441.2 L1043.0 442.4 L1043.8 442.7 L1043.8 442.9 Z" fill="#b93535" fill-opacity="0.435" stroke="#a01a1d" stroke-width="1.25" stroke-linejoin="round"/>
<path d="M954.4 442.9 L954.4 442.9 L954.9 442.9 L955.4 441.8 L955.9 438.9 L956.4 436.0 L956.9 433.2 L957.4 430.3 L957.9 425.8 L958.4 421.2 L958.9 416.7 L959.4 412.1 L959.9 406.6 L960.4 401.1 L960.9 395.6 L961.4 389.9 L961.9 384.2 L962.4 378.5 L962.9 367.4 L963.4 356.2 L963.9 343.6 L964.4 331.0 L964.9 324.9 L965.4 318.9 L965.9 312.8 L966.4 308.6 L966.9 304.4 L967.4 303.0 L967.9 305.3 L968.4 310.8 L968.9 317.0 L969.4 324.5 L969.9 331.9 L970.4 339.4 L970.9 346.8 L971.4 354.3 L971.9 361.8 L972.4 367.8 L972.9 373.9 L973.4 379.9 L973.9 384.0 L974.4 388.1 L974.9 392.2 L975.4 396.3 L975.9 400.5 L976.4 405.1 L976.9 409.8 L977.4 414.5 L977.9 419.1 L978.4 422.3 L978.9 425.4 L979.4 428.6 L979.9 431.7 L980.4 433.3 L980.9 435.0 L981.4 436.6 L981.9 437.5 L982.4 438.4 L982.9 439.3 L983.4 440.2 L983.9 441.1 L984.4 442.0 L984.9 442.9 L985.4 442.9 L985.9 442.9 L986.4 442.9 L986.9 442.9 L987.4 442.9 L987.4 442.9 Z" fill="#4ab4dc" fill-opacity="0.70" stroke="#35b2e4" stroke-width="1.0" stroke-linejoin="round"/>
<path d="M959.0 442.9 L959.0 442.9 L959.8 441.0 L960.6 437.8 L961.4 434.7 L962.2 431.6 L963.0 427.8 L963.8 419.1 L964.6 410.4 L965.4 400.1 L966.2 389.5 L967.0 380.1 L967.8 371.4 L968.6 361.1 L969.4 348.2 L970.2 336.6 L971.0 325.4 L971.8 315.1 L972.6 303.5 L973.4 307.0 L974.2 313.0 L975.0 321.4 L975.8 333.7 L976.6 351.8 L977.4 365.2 L978.2 378.7 L979.0 381.6 L979.8 384.8 L980.6 394.3 L981.4 400.4 L982.2 406.0 L983.0 407.9 L983.8 415.1 L984.6 415.3 L985.4 422.0 L986.2 417.5 L987.0 420.1 L987.8 419.1 L988.6 420.5 L989.4 417.3 L990.2 418.2 L991.0 416.0 L991.8 421.0 L992.6 418.6 L993.4 418.2 L994.2 412.4 L995.0 418.7 L995.8 415.6 L996.6 420.3 L997.4 413.9 L998.2 417.7 L999.0 416.7 L999.8 419.8 L1000.6 415.8 L1001.4 421.8 L1002.2 411.7 L1003.0 414.0 L1003.8 407.4 L1004.6 411.2 L1005.4 407.5 L1006.2 410.9 L1007.0 410.4 L1007.8 412.0 L1008.6 406.7 L1009.4 411.1 L1010.2 410.3 L1011.0 416.4 L1011.8 412.5 L1012.6 415.9 L1013.4 409.4 L1014.2 413.1 L1015.0 408.9 L1015.8 415.0 L1016.6 416.7 L1017.4 417.8 L1018.2 410.3 L1019.0 414.7 L1019.8 412.5 L1020.6 416.9 L1021.4 417.6 L1022.2 423.2 L1023.0 419.5 L1023.8 420.3 L1024.6 415.9 L1025.4 425.6 L1026.2 421.2 L1027.0 425.3 L1027.8 422.7 L1028.6 427.3 L1029.4 426.8 L1030.2 433.4 L1031.0 431.5 L1031.8 436.8 L1032.6 428.8 L1033.4 433.4 L1034.2 429.4 L1035.0 436.0 L1035.8 437.1 L1036.6 437.2 L1037.4 435.4 L1038.2 437.4 L1039.0 438.0 L1039.8 439.7 L1040.6 439.9 L1041.4 441.6 L1042.2 441.2 L1043.0 442.4 L1043.8 442.7 L1043.8 442.9 Z" fill="#b93535" fill-opacity="0.15" stroke="none"/>
<rect x="918.0" y="295.6" width="159.6" height="147.8" fill="none" stroke="#6c6c6c" stroke-width="0.95"/>
<g stroke="#2a2626" fill="none"><line x1="981.4" y1="368.4" x2="1077.1" y2="368.4" stroke-width="1.45"/><line x1="981.8" y1="365.3" x2="981.8" y2="371.5" stroke-width="1.6"/><line x1="1076.6" y1="365.1" x2="1076.6" y2="371.7" stroke-width="2.2"/></g>
<text x="995.1" y="337.0" font-size="12.5" fill="#3c3c3c" stroke="#3c3c3c" stroke-width="0.35" textLength="79.4" lengthAdjust="spacingAndGlyphs">copGFP(%)</text>
<text x="1020.4" y="356.0" font-size="12.6" fill="#3c3c3c" stroke="#3c3c3c" stroke-width="0.35" textLength="29.2" lengthAdjust="spacingAndGlyphs">44.8</text>
<text class="ser" x="961.3" y="283.0" font-size="16.8" fill="#0d0d0d" stroke="#0d0d0d" stroke-width="0.3" textLength="69.4" lengthAdjust="spacingAndGlyphs">Clone 28</text>
</svg></body></html>
